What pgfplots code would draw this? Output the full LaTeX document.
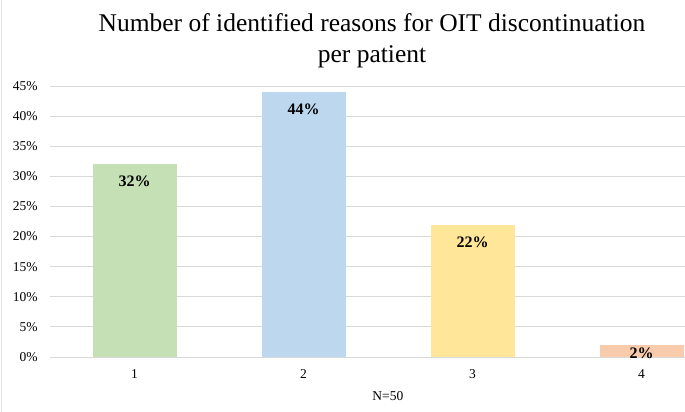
\documentclass[border=0pt]{standalone}
\usepackage{pgfplots}
\pgfplotsset{compat=1.18}
\usepackage{fontspec}
\setmainfont{Liberation Serif}
\definecolor{gridgray}{HTML}{D9D9D9}
\definecolor{bgreen}{HTML}{C5E0B4}
\definecolor{bblue}{HTML}{BDD7EE}
\definecolor{byellow}{HTML}{FFE699}
\definecolor{borange}{HTML}{F8CBAD}
\begin{document}
\begin{tikzpicture}
\useasboundingbox (0,0) rectangle (685pt,412pt);
\fill[white] (0,0) rectangle (685pt,412pt);
\draw[color=gridgray!70, line width=0.6pt] (1.5pt,0) -- (1.5pt,412pt);
\node[anchor=base, font=\fontsize{25.5}{30.5}\selectfont] at (372pt,380pt) {Number of identified reasons for OIT discontinuation};
\node[anchor=base, font=\fontsize{25.5}{30.5}\selectfont] at (372pt,349.5pt) {per patient};
\begin{axis}[
  at={(50pt,55pt)}, anchor=south west,
  scale only axis,
  width=635pt, height=271pt,
  xmin=0.5, xmax=4.257,
  ymin=0, ymax=45,
  ybar, bar shift=0pt, bar width=84pt,
  axis line style={draw=none},
  major tick length=0pt,
  ymajorgrids,
  grid style={color=gridgray, line width=0.8pt},
  ytick={0,5,...,45},
  yticklabel={\pgfmathprintnumber[assume math mode=true]{\tick}\%},
  yticklabel style={anchor=east, inner sep=0pt, xshift=-12.3pt, font=\fontsize{13.5}{16}\selectfont},
  xtick={1,2,3,4},
  xticklabels={1,2,3,4},
  xticklabel style={anchor=center, inner sep=0pt, yshift=-17pt, font=\fontsize{13.5}{16}\selectfont},
  xlabel={N=50},
  xlabel style={at={(axis description cs:0.532,0)}, anchor=center, inner sep=0pt, yshift=-39pt, font=\fontsize{13.5}{16}\selectfont},
  nodes near coords={\pgfmathprintnumber[assume math mode=true]{\pgfplotspointmeta}\%},
  every node near coord/.append style={font=\fontsize{16}{19}\selectfont\bfseries, inner sep=0pt, anchor=north, yshift=-11.7pt},
]
\addplot[fill=bgreen, draw=none] coordinates {(1,32)};
\addplot[fill=bblue, draw=none] coordinates {(2,44)};
\addplot[fill=byellow, draw=none] coordinates {(3,22)};
\addplot[fill=borange, draw=none, every node near coord/.append style={anchor=base, yshift=-1.7pt}] coordinates {(4,2)};
\end{axis}
\end{tikzpicture}
\end{document}
